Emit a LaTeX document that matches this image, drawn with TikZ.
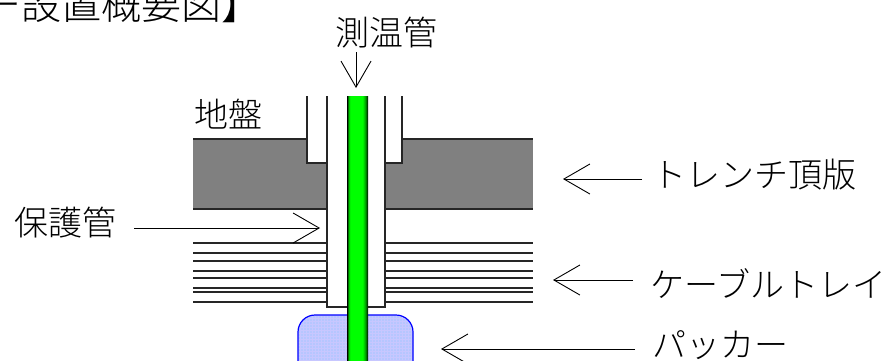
\documentclass[tikz,border=0pt]{standalone}
\usepackage{fontspec}
\setmainfont{Noto Sans CJK JP}[UprightFont=* Light]
\usetikzlibrary{arrows.meta,patterns}
\pgfdeclarehorizontalshading{pipegreen}{100bp}{color(0bp)=(black); color(25bp)=(black); color(29bp)=(green!75!black); color(33bp)=(green); color(62bp)=(green); color(69bp)=(green!60!black); color(75bp)=(black); color(100bp)=(black)}
\tikzset{
    wall/.style={line width=1.1pt,draw=black!85},
    pointer/.style={line width=0.9pt,-{Straight Barb[length=26pt,width=30pt,line width=0.9pt]}},
    lbl/.style={inner sep=0pt,text height=27pt,text depth=3pt,font=\fontsize{34}{34}\selectfont},
}
\begin{document}
\begin{tikzpicture}[x=1pt,y=-1pt]
        \clip (0,0) rectangle (891,360);
        \fill[white] (0,0) rectangle (891,360);

        % Ground slab
        \fill[black!50] (193,139) rectangle (533,209);
        \draw[wall] (193,139) -- (533,139);
        \draw[wall] (193,209) -- (533,209);

        % Cable tray
        \foreach \trayy in {243,253,261,271,278,288,292,302} {
            \draw[wall] (193,\trayy) -- (533,\trayy);
        }

        % Sleeve and protection pipe
        \fill[white] (307,96) rectangle (402,163);
        \draw[wall] (307,96) -- (307,163) -- (327,163);
        \draw[wall] (402,96) -- (402,163) -- (385,163);
        \draw[wall,fill=white] (327,96) -- (327,307) -- (385,307) -- (385,96);

        % Packer
        \draw[draw=blue,line width=1.2pt,rounded corners=17pt,preaction={fill={rgb,255:red,182;green,198;blue,255}},preaction={pattern=grid,pattern color=blue!22}] (298,385) -- (298,315) -- (413,315) -- (413,385);

        % Thermometer pipe
        \shade[shading=pipegreen] (347,96) rectangle (368,360);

        % Labels
        \node[lbl,anchor=west,text height=32pt,text depth=4pt,font=\fontsize{40}{40}\selectfont] (title) at (-19,5) {ー設置概要図】};
        \node[lbl] (ground) at (228,115) {地盤};
        \node[lbl,anchor=south,outer ysep=3pt] (thermo) at (386,51) {測温管};
        \node[lbl,anchor=east,outer xsep=18pt] (guard) at (134,223) {保護管};
        \node[lbl,anchor=west,outer xsep=10pt] (trench) at (642,175) {トレンチ頂版};
        \node[lbl,anchor=west,outer xsep=17pt] (tray) at (633,285) {ケーブルトレイ};
        \node[lbl,anchor=west,outer xsep=17pt] (packer) at (635,345) {パッカー};

        % Arrows
        \coordinate (thermotip) at (356,88);
        \coordinate (thermotail) at (356,52);
        \coordinate (guardtip) at (320,228);
        \coordinate (trenchtip) at (563,179);
        \coordinate (traytip) at (553,280);
        \coordinate (packertip) at (441,349);
        \draw[pointer] (thermotail) -- (thermotip);
        \draw[pointer] (guard.east |- guardtip) -- (guardtip);
        \draw[pointer] (trench.west |- trenchtip) -- (trenchtip);
        \draw[pointer] (tray.west |- traytip) -- (traytip);
        \draw[pointer] (packer.west |- packertip) -- (packertip);
    \end{tikzpicture}
\end{document}
